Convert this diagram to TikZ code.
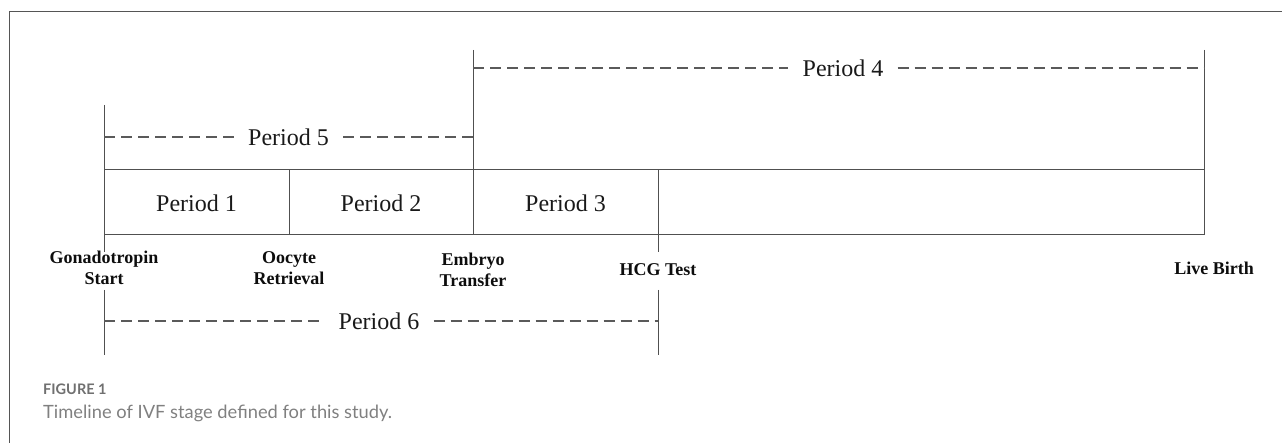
\documentclass[tikz,border=0pt]{standalone}
\usepackage{fontspec}
\setmainfont{Liberation Serif}
\newfontfamily\capfont{Lato}
\definecolor{linegray}{HTML}{505050}
\definecolor{dashgray}{HTML}{5A5A5A}
\definecolor{framegray}{HTML}{555555}
\definecolor{capgray}{HTML}{808080}
\definecolor{captitlegray}{HTML}{707070}
\begin{document}
\begin{tikzpicture}[x=1pt,y=-1pt,
  solidline/.style={draw=linegray,line width=1pt},
  dashline/.style={draw=dashgray,line width=1.6pt,dash pattern=on 11pt off 6pt},
  period/.style={font=\fontsize{24}{26}\selectfont,inner sep=0pt,text=black!90},
  plabel/.style={font=\fontsize{24}{26}\selectfont,inner xsep=14pt,inner ysep=0pt,text=black!90},
  event/.style={font=\bfseries\fontsize{18}{21}\selectfont,align=center,inner sep=0pt,text=black!95},
  captitle/.style={font=\capfont\bfseries\fontsize{14.5}{16}\selectfont,text=captitlegray,anchor=west,inner sep=0pt},
  captext/.style={font=\capfont\fontsize{18.3}{21}\selectfont,text=capgray,anchor=west,inner sep=0pt}]
\useasboundingbox (0,0) rectangle (1282,443);
% frame
\draw[framegray,line width=1pt] (9,443) -- (9,12) -- (1282,12);
% key coordinates
\coordinate (gTop) at (104,105);
\coordinate (gBoxT) at (104,170);
\coordinate (gBoxB) at (104,235);
\coordinate (gTick) at (104,252);
\coordinate (gLowT) at (104,290);
\coordinate (gLowB) at (104,355);
\coordinate (oBoxT) at (289,170);
\coordinate (oBoxB) at (289,235);
\coordinate (eTop) at (473,50);
\coordinate (eBoxT) at (473,170);
\coordinate (eBoxB) at (473,235);
\coordinate (hBoxT) at (658,170);
\coordinate (hBoxB) at (658,235);
\coordinate (hTick) at (658,252);
\coordinate (hLowT) at (658,290);
\coordinate (hLowB) at (658,355);
\coordinate (lTop) at (1204,50);
\coordinate (lBoxT) at (1204,170);
\coordinate (lBoxB) at (1204,235);
% box
\draw[solidline] (gBoxT) -- (lBoxT);
\draw[solidline] (gBoxB) -- (lBoxB);
\draw[solidline] (gTop) -- (gTick);
\draw[solidline] (oBoxT) -- (oBoxB);
\draw[solidline] (eTop) -- (eBoxB);
\draw[solidline] (hBoxT) -- (hTick);
\draw[solidline] (lTop) -- (lBoxB);
\draw[solidline] (gLowT) -- (gLowB);
\draw[solidline] (hLowT) -- (hLowB);
% period cells
\node[period] (p1) at (196.5,203) {Period 1};
\node[period] (p2) at (381,203) {Period 2};
\node[period] (p3) at (565.5,203) {Period 3};
% dashed spans
\node[plabel] (p5) at (288.5,137) {Period 5};
\draw[dashline] (104,137) -- (p5.west);
\draw[dashline] (p5.east) -- (473,137);
\node[plabel] (p4) at (843,68) {Period 4};
\draw[dashline] (473,68) -- (p4.west);
\draw[dashline] (p4.east) -- (1204,68);
\node[plabel] (p6) at (379,321) {Period 6};
\draw[dashline] (104,321) -- (p6.west);
\draw[dashline] (p6.east) -- (658,321);
% events
\node[event] (ev1) at (104,268) {Gonadotropin\\Start};
\node[event] (ev2) at (289,268) {Oocyte\\Retrieval};
\node[event] (ev3) at (473,270) {Embryo\\Transfer};
\node[event] (ev4) at (658,270) {HCG Test};
\node[event] (ev5) at (1214,268) {Live Birth};
% caption
\node[captitle] (fig) at (43,389) {FIGURE 1};
\node[captext] (cap) at (43,413) {Timeline of IVF stage defined for this study.};
\end{tikzpicture}
\end{document}
